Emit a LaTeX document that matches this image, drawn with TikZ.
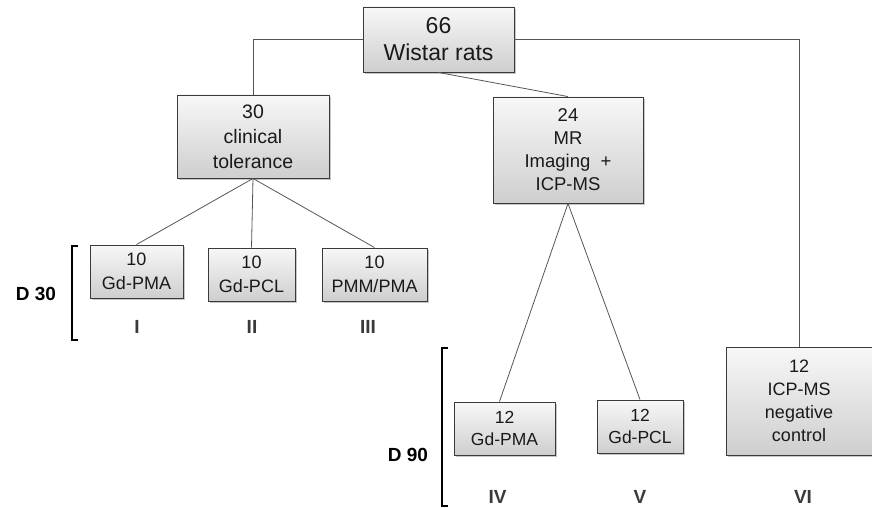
\documentclass[tikz,border=0pt]{standalone}
\usepackage{fontspec}
\setmainfont{Liberation Sans}
\usetikzlibrary{shadows}
\definecolor{linegray}{HTML}{555555}
\definecolor{textgray}{HTML}{1A1A1A}
\definecolor{romgray}{HTML}{3A3A3A}

\begin{document}
\begin{tikzpicture}[x=1pt,y=-1pt,-,thick,
  group node/.style={draw=romgray,line width=0.9pt,top color=gray!6,bottom color=gray!38,
    drop shadow={shadow xshift=1.6pt,shadow yshift=-1.6pt,opacity=0.45},
    align=center,inner sep=0pt,text=textgray,font=\fontsize{18}{24}\selectfont},
  rom node/.style={font=\bfseries\fontsize{19}{22}\selectfont,text=romgray},
  day node/.style={font=\bfseries\fontsize{19}{22}\selectfont},
  link/.style={draw=linegray,line width=0.8pt}]
                \useasboundingbox (0,0) rectangle (872,508);
                \node[group node,minimum width=151pt,minimum height=65pt,font=\fontsize{23}{27}\selectfont] (1) at (438.5,39.5) {66\\Wistar rats};
                \node[group node,minimum width=152pt,minimum height=83pt,font=\fontsize{19.5}{25}\selectfont] (2) at (253,136.5) {30\\clinical\\tolerance};
                \node[group node,minimum width=150pt,minimum height=106pt,font=\fontsize{18.5}{23}\selectfont] (3) at (568,150) {24\\MR\\Imaging~ +\\ICP-MS};
                \node[group node,minimum width=93pt,minimum height=53pt] (4) at (136.5,271.5) {10\\Gd-PMA};
                \node[group node,minimum width=87pt,minimum height=53pt] (5) at (251.5,274.5) {10\\Gd-PCL};
                \node[group node,minimum width=105pt,minimum height=53pt] (6) at (374.5,274.5) {10\\PMM/PMA};
                \node[group node,minimum width=101pt,minimum height=53pt,font=\fontsize{17.5}{22}\selectfont] (7) at (504.5,428.5) {12\\Gd-PMA};
                \node[group node,minimum width=86pt,minimum height=53pt,font=\fontsize{17.5}{22}\selectfont] (8) at (640,426.5) {12\\Gd-PCL};
                \node[group node,minimum width=146pt,minimum height=108pt,font=\fontsize{18}{23}\selectfont] (9) at (799,401) {12\\ICP-MS\\negative\\control};

                % group numbers
                \node[rom node] (r1) at (137,327) {I};
                \node[rom node] (r2) at (252,327) {II};
                \node[rom node] (r3) at (368,327) {III};
                \node[rom node] (r4) at (497.5,497) {IV};
                \node[rom node] (r5) at (640,497) {V};
                \node[rom node] (r6) at (803,497) {VI};

                % time points
                \node[day node] (d1) at (36,294) {D 30};
                \node[day node] (d2) at (408,455) {D 90};
                \draw[line width=2.6pt] (78,246) -- (72,246) -- (72,340) -- (78,340);
                \draw[line width=2.6pt] (448,348) -- (442,348) -- (442,506) -- (448,506);

                \path[link]
                    (1.south) edge (3.north)
                    (2.south) edge (4.north)
                    (2.south) edge (5.north)
                    (2.south) edge (6.north)
                    (3.south) edge ([xshift=-5pt]7.north)
                    (3.south) edge (8.north)
                    ;
                \draw[link] (2.north) |- (1.west);
                \draw[link] (9.north) |- (1.east);
            \end{tikzpicture}
\end{document}
